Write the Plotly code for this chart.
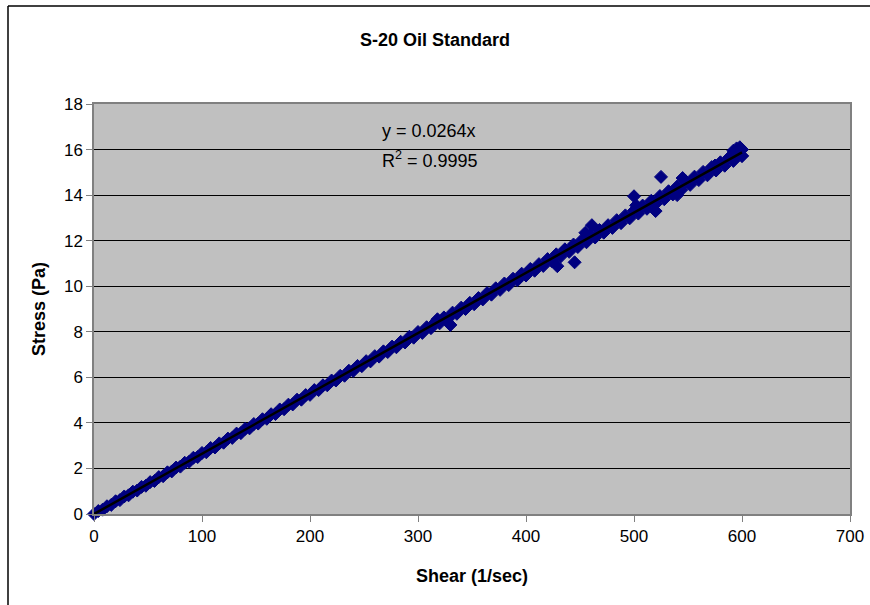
import numpy as np
import plotly.graph_objects as go

shear = [0, 4, 8, 12, 16, 20, 24, 28, 32, 36, 40, 44, 48, 52, 56, 60, 64, 68, 72, 76,
         80, 84, 88, 92, 96, 100, 104, 108, 112, 116, 120, 124, 128, 132, 136, 140, 144, 148, 152, 156,
         160, 164, 168, 172, 176, 180, 184, 188, 192, 196, 200, 204, 208, 212, 216, 220, 224, 228, 232, 236,
         240, 244, 248, 252, 256, 260, 264, 268, 272, 276, 280, 284, 288, 292, 296, 300, 304, 308, 312, 316,
         320, 324, 328, 332, 336, 340, 344, 348, 352, 356, 360, 364, 368, 372, 376, 380, 384, 388, 392, 396,
         400, 404, 408, 412, 416, 420, 424, 428, 432, 436, 440, 444, 448, 452, 456, 460, 464, 468, 472, 476,
         480, 484, 488, 492, 496, 500, 504, 508, 512, 516, 520, 524, 528, 532, 536, 540, 544, 548, 552, 556,
         560, 564, 568, 572, 576, 580, 584, 588, 592, 596, 600]
stress = [0.00, 0.13, 0.19, 0.34, 0.40, 0.56, 0.61, 0.77, 0.82, 0.98, 1.03, 1.19, 1.24, 1.40, 1.45, 1.62, 1.66, 1.83, 1.87, 2.04,
          2.08, 2.25, 2.29, 2.47, 2.50, 2.68, 2.71, 2.90, 2.92, 3.10, 3.13, 3.31, 3.34, 3.53, 3.55, 3.74, 3.76, 3.95, 3.97, 4.16,
          4.18, 4.38, 4.39, 4.59, 4.60, 4.80, 4.81, 5.02, 5.02, 5.22, 5.23, 5.44, 5.44, 5.65, 5.65, 5.86, 5.86, 6.07, 6.07, 6.29,
          6.28, 6.50, 6.49, 6.71, 6.70, 6.93, 6.91, 7.14, 7.11, 7.35, 7.32, 7.56, 7.53, 7.78, 7.74, 7.99, 7.95, 8.20, 8.16, 8.42,
          8.37, 8.63, 8.58, 8.84, 8.79, 9.06, 9.00, 9.27, 9.21, 9.48, 9.42, 9.70, 9.63, 9.91, 9.84, 10.12, 10.05, 10.33, 10.26, 10.55,
          10.47, 10.76, 10.68, 10.97, 10.89, 11.19, 11.10, 11.40, 11.30, 11.62, 11.51, 11.83, 11.72, 12.04, 11.93, 12.26, 12.14, 12.47, 12.35, 12.68,
          12.56, 12.90, 12.77, 13.11, 12.98, 13.32, 13.19, 13.54, 13.40, 13.75, 13.61, 13.96, 13.82, 14.17, 14.03, 14.38, 14.24, 14.60, 14.45, 14.81,
          14.66, 15.02, 14.87, 15.23, 15.08, 15.44, 15.29, 15.65, 15.50, 15.86, 15.72]

# Scattered readings off the main band
shear_out = [318, 330, 429, 445, 455, 461, 500, 502, 520, 525, 540, 545, 548, 575, 592, 595, 596, 598, 600, 600]
stress_out = [8.55, 8.30, 10.88, 11.05, 12.35, 12.68, 13.95, 13.55, 13.30, 14.80, 14.00, 14.75, 14.60, 15.30, 15.95, 16.05, 15.95, 16.10, 15.72, 16.00]

x_all = np.array(shear + shear_out, dtype=float)
y_all = np.array(stress + stress_out, dtype=float)

# Linear trendline through the origin (least squares)
slope = float(np.sum(x_all * y_all) / np.sum(x_all * x_all))
x_fit = np.array([0.0, x_all.max()])
y_fit = slope * x_fit

font = "Liberation Sans, Arial, sans-serif"

fig = go.Figure()
fig.add_trace(go.Scatter(
    x=x_all, y=y_all, mode="markers",
    marker=dict(symbol="diamond", size=10, color="#000080",
                line=dict(color="#000080", width=1)),
    cliponaxis=False, showlegend=False, hoverinfo="x+y"))
fig.add_trace(go.Scatter(
    x=x_fit, y=y_fit, mode="lines",
    line=dict(color="black", width=2.5),
    cliponaxis=False, showlegend=False, hoverinfo="skip"))

fig.update_layout(
    width=870, height=605,
    margin=dict(l=94, r=20, t=104, b=91, autoexpand=False),
    paper_bgcolor="white", plot_bgcolor="#C0C0C0",
    font=dict(family=font, size=17, color="black"),
    title=dict(text="<b>S-20 Oil Standard</b>", x=0.5, xanchor="center",
               y=1 - 40 / 605, yanchor="middle", yref="container",
               font=dict(family=font, size=18, color="black")),
    xaxis=dict(range=[0, 700], dtick=100, tick0=0, showgrid=False, zeroline=False,
               automargin=False,
               showline=True, linecolor="#808080", linewidth=1.5, mirror=True,
               ticks="outside", ticklen=6, tickcolor="#808080",
               tickfont=dict(family=font, size=17, color="black"),
               title=dict(text="<b>Shear (1/sec)</b>", standoff=24,
                          font=dict(family=font, size=18, color="black"))),
    yaxis=dict(range=[0, 18], dtick=2, tick0=0, showgrid=True, gridcolor="black",
               gridwidth=1, zeroline=False, automargin=False,
               showline=True, linecolor="#808080", linewidth=1.5, mirror=True,
               ticks="outside", ticklen=6, tickcolor="#808080",
               tickfont=dict(family=font, size=17, color="black"),
               title=dict(text="<b>Stress (Pa)</b>", standoff=14,
                          font=dict(family=font, size=18, color="black"))),
)

# Trendline equation labels
fig.add_annotation(x=(380 - 94) / 756, y=(514 - 131) / 410, xref="paper", yref="paper",
                   text="y = 0.0264x", showarrow=False, xanchor="left", yanchor="middle",
                   font=dict(family=font, size=18, color="black"))
fig.add_annotation(x=(380 - 94) / 756, y=(514 - 159) / 410, xref="paper", yref="paper",
                   text="R<sup>2</sup> = 0.9995", showarrow=False, xanchor="left", yanchor="middle",
                   font=dict(family=font, size=18, color="black"))

# Chart-area border (left and top edges visible)
bx = (8 - 94) / 756
by = (514 - 6) / 410
fig.add_shape(type="line", xref="paper", yref="paper", x0=bx, x1=bx, y0=by, y1=-0.3,
              line=dict(color="black", width=1.5))
fig.add_shape(type="line", xref="paper", yref="paper", x0=bx, x1=1.1, y0=by, y1=by,
              line=dict(color="black", width=1.5))

# Remove the browser's default page margin so the figure sits at the window's corner
fig.write_html("out.html", config={"displayModeBar": False},
               post_script="document.body.style.margin='0';")
